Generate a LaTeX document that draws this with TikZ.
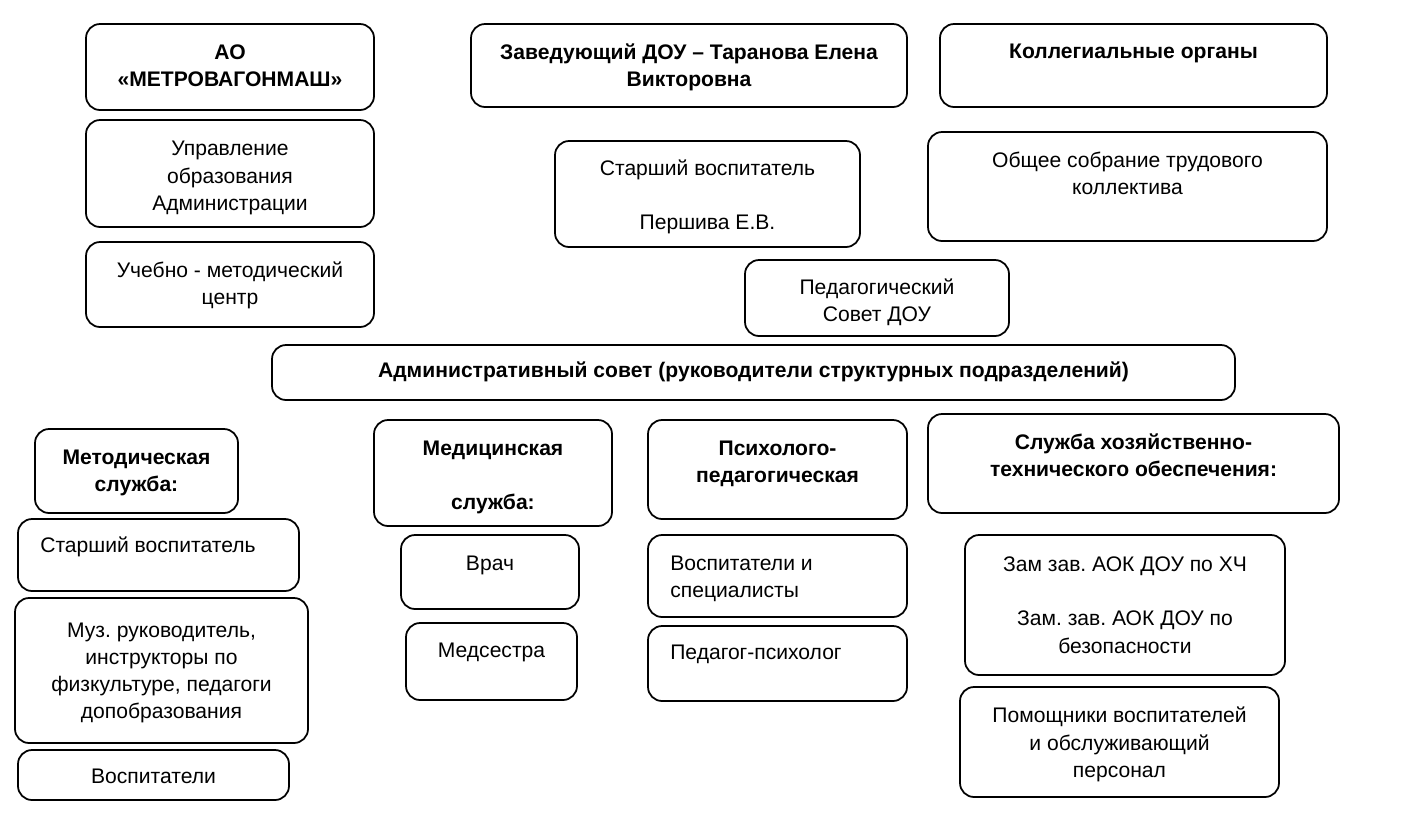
\documentclass[tikz,border=0pt]{standalone}
\usepackage{fontspec}
\setmainfont{Liberation Sans}
\frenchspacing
\usetikzlibrary{positioning, fit}

\begin{document}
\begin{tikzpicture}[
    x=0.02cm, y=-0.02cm,
    box/.style={rectangle, draw, rounded corners=8pt, line width=1pt, inner sep=0pt},
    txt/.style={inner sep=0pt, align=center, font=\fontsize{12}{15.4}\selectfont},
    head/.style={txt, font=\fontsize{12}{15.4}\selectfont\bfseries},
    ltxt/.style={txt, align=left}
]
    \useasboundingbox (0,0) rectangle (1407,816);

    % top left column
    \node[box, fit={(86,24) (374,110)}] (ao) {};
    \node[head, below=9.5pt of ao.north] (ao-t) {\strut АО\\«МЕТРОВАГОНМАШ»};
    \node[box, fit={(86,120) (374,227)}] (uo) {};
    \node[txt, below=10pt of uo.north] (uo-t) {\strut Управление\\образования\\Администрации};
    \node[box, fit={(86,242) (374,327)}] (umc) {};
    \node[txt, below=9.5pt of umc.north] (umc-t) {\strut Учебно - методический\\центр};

    % top middle and right
    \node[box, fit={(471,24) (907,107)}] (zav) {};
    \node[head, below=9.5pt of zav.north] (zav-t) {\strut Заведующий ДОУ – Таранова Елена\\Викторовна};
    \node[box, fit={(940,24) (1327,107)}] (kol) {};
    \node[head, below=9pt of kol.north] (kol-t) {\strut Коллегиальные органы};
    \node[box, fit={(555,141) (860,247)}] (stv) {};
    \node[txt, below=9pt of stv.north] (stv-t) {\strut Старший воспитатель\\[15.4pt]Першива Е.В.};
    \node[box, fit={(928,132) (1327,241)}] (osk) {};
    \node[txt, below=9.5pt of osk.north] (osk-t) {\strut Общее собрание трудового\\коллектива};
    \node[box, fit={(745,260) (1009,336)}] (ped) {};
    \node[txt, below=9pt of ped.north] (ped-t) {\strut Педагогический\\Совет ДОУ};

    \node[box, fit={(272,345) (1235,400)}] (adm) {};
    \node[head, below=8pt of adm.north] (adm-t) {\strut Административный совет (руководители структурных подразделений)};

    % services
    \node[box, fit={(35,429) (238,513)}] (met) {};
    \node[head, below=9.5pt of met.north] (met-t) {\strut Методическая\\служба:};
    \node[box, fit={(374,420) (612,526)}] (med) {};
    \node[head, below=9.5pt of med.north] (med-t) {\strut Медицинская\\[15.4pt]служба:};
    \node[box, fit={(648,420) (907,519)}] (psy) {};
    \node[head, below=9.5pt of psy.north] (psy-t) {\strut Психолого-\\педагогическая};
    \node[box, fit={(928,414) (1339,513)}] (hoz) {};
    \node[head, below=9.5pt of hoz.north] (hoz-t) {\strut Служба хозяйственно-\\технического обеспечения:};

    % staff
    \node[box, fit={(18,519) (299,591)}] (sv2) {};
    \node[ltxt, below right=8.5pt and 13pt of sv2.north west] (sv2-t) {\strut Старший воспитатель};
    \node[box, fit={(15,598) (308,743)}] (muz) {};
    \node[txt, below=12pt of muz.north] (muz-t) {\strut Муз. руководитель,\\инструкторы по\\физкультуре, педагоги\\допобразования};
    \node[box, fit={(18,750) (289,800)}] (vos) {};
    \node[txt, below=8.5pt of vos.north] (vos-t) {\strut Воспитатели};
    \node[box, fit={(401,535) (579,609)}] (vr) {};
    \node[txt, below=9.5pt of vr.north] (vr-t) {\strut Врач};
    \node[box, fit={(406,623) (577,700)}] (ms) {};
    \node[txt, below=9pt of ms.north] (ms-t) {\strut Медсестра};
    \node[box, fit={(648,535) (907,617)}] (vsp) {};
    \node[ltxt, below right=9.5pt and 13pt of vsp.north west] (vsp-t) {\strut Воспитатели и\\специалисты};
    \node[box, fit={(648,626) (907,701)}] (pp) {};
    \node[ltxt, below right=8.5pt and 13pt of pp.north west] (pp-t) {\strut Педагог-психолог};
    \node[box, fit={(965,535) (1285,675)}] (zam) {};
    \node[txt, below=10.5pt of zam.north] (zam-t) {\strut Зам зав. АОК ДОУ по ХЧ\\[15.4pt]Зам. зав. АОК ДОУ по\\безопасности};
    \node[box, fit={(960,687) (1279,797)}] (pom) {};
    \node[txt, below=10pt of pom.north] (pom-t) {\strut Помощники воспитателей\\и обслуживающий\\персонал};
\end{tikzpicture}
\end{document}
